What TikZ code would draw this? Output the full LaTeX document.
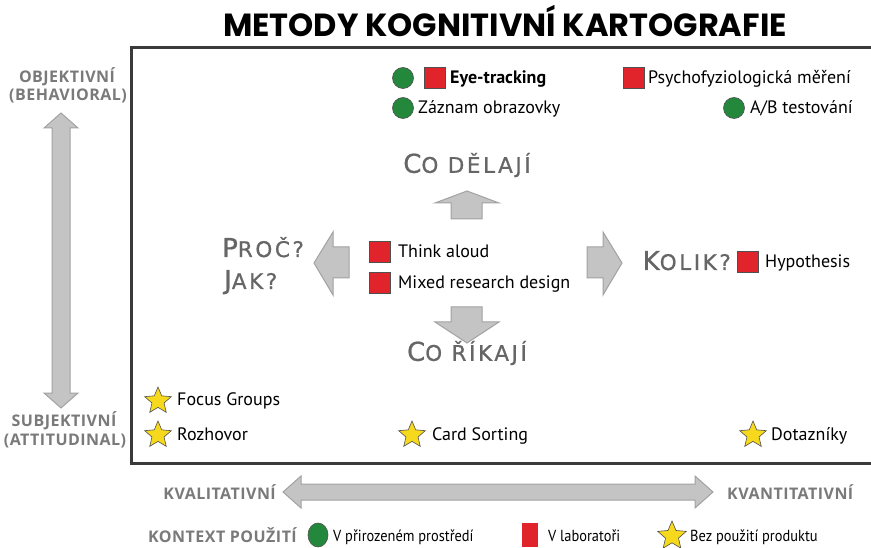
\documentclass[tikz,border=0pt]{standalone}
\usepackage{fontspec}
\setmainfont{PT Sans}
\newfontfamily\headfont{DejaVu Sans}[LetterSpace=12, FakeBold=0.8]
\newfontfamily\axisfont{Open Sans}[LetterSpace=3]
\newfontfamily\titlefont{Poppins}
\usetikzlibrary{shapes.geometric}

\definecolor{frame}{HTML}{3A3A3A}
\definecolor{arrowfill}{HTML}{C4C4C4}
\definecolor{arrowline}{HTML}{A2A2A2}
\definecolor{headgray}{HTML}{666666}
\definecolor{axisgray}{HTML}{7A7A7A}
\definecolor{fieldgreen}{HTML}{23883C}
\definecolor{labred}{HTML}{E1242B}
\definecolor{staryellow}{HTML}{F6D91C}
\definecolor{markline}{HTML}{505050}

% small caps built by hand: first letter large, rest smaller
\newcommand{\hsc}[2]{{\fontsize{26}{26}\selectfont #1}{\fontsize{21.5}{21.5}\selectfont #2}}

\tikzset{
  field/.style={circle, draw=markline, line width=0.6pt, fill=fieldgreen, minimum size=21pt, inner sep=0pt},
  lab/.style={rectangle, draw=markline, line width=0.6pt, fill=labred, minimum size=21pt, inner sep=0pt},
  noprod/.style={star, star points=5, star point ratio=2.2, draw=markline, line width=0.6pt, fill=staryellow, minimum size=28pt, inner sep=0pt},
  item/.style={anchor=base west, inner sep=0pt, font=\fontsize{18}{18}\selectfont, text=black},
  legtext/.style={anchor=base west, inner sep=0pt, font=\fontsize{16}{16}\selectfont, text=black},
  heading/.style={inner sep=0pt, text=headgray, font=\headfont},
  axislabel/.style={inner sep=0pt, text=axisgray, font=\axisfont\bfseries\fontsize{16}{16}\selectfont},
  bigarrow/.style={fill=arrowfill, draw=arrowline, line width=1pt, line join=miter},
  frame box/.style={draw=frame, line width=3pt}
}

\begin{document}
\begin{tikzpicture}[x=1pt, y=-1pt]
\clip (0,0) rectangle (871,548);
\fill[white] (0,0) rectangle (871,548);

% title
\node[inner sep=0pt, font=\titlefont\bfseries\fontsize{32}{32}\selectfont] (title) at (505,21) {METODY KOGNITIVNÍ KARTOGRAFIE};

% main frame
\draw[frame box] (131,48) rectangle (885,463);

% vertical axis
\draw[bigarrow] (61,113) -- (78,128) -- (70,128) -- (70,393) -- (78,393) -- (61,408)
  -- (44,393) -- (52,393) -- (52,128) -- (44,128) -- cycle;
\node[axislabel] (obj) at (67,77) {OBJEKTIVNÍ};
\node[axislabel] (beh) at (68,96) {(BEHAVIORAL)};
\node[axislabel] (subj) at (64,421) {SUBJEKTIVNÍ};
\node[axislabel] (att) at (65,441) {(ATTITUDINAL)};

% horizontal axis
\draw[bigarrow] (283,492) -- (301,476) -- (301,484) -- (695,484) -- (695,476) -- (713,492)
  -- (695,508) -- (695,500) -- (301,500) -- (301,508) -- cycle;
\node[axislabel, anchor=east] (qual) at (276,492) {KVALITATIVNÍ};
\node[axislabel, anchor=west] (quant) at (727,492) {KVANTITATIVNÍ};

% top row
\node[field] (c1) at (403,78) {};
\node[lab] (s1) at (435,78) {};
\node[item, font=\bfseries\fontsize{18}{18}\selectfont] (eye) at (450,84) {Eye-tracking};
\node[lab] (s2) at (634,78) {};
\node[item] (psy) at (648,84) {Psychofyziologická měření};
\node[field] (c2) at (403,108) {};
\node[item] (zaz) at (418,114) {Záznam obrazovky};
\node[field] (c3) at (734,108) {};
\node[item] (ab) at (750,114) {A/B testování};

% centre cross
\node[heading] (dela) at (467,165) {\hsc{C}{O DĚLAJÍ}};
\draw[bigarrow] (467,191) -- (499,203) -- (482,203) -- (482,219) -- (451,219) -- (451,203) -- (435,203) -- cycle;
\draw[bigarrow] (467,343) -- (499,322) -- (482,322) -- (482,307) -- (451,307) -- (451,322) -- (435,322) -- cycle;
\node[heading] (rika) at (467,353) {\hsc{C}{O ŘÍKAJÍ}};
\draw[bigarrow] (314,263) -- (333,232) -- (333,247) -- (349,247) -- (349,278) -- (333,278) -- (333,295) -- cycle;
\draw[bigarrow] (622,263) -- (603,232) -- (603,247) -- (587,247) -- (587,278) -- (603,278) -- (603,295) -- cycle;
\node[heading, anchor=base west] (proc) at (222,257) {\hsc{P}{ROČ?}};
\node[heading, anchor=base west] (jak) at (224,289) {\hsc{J}{AK?}};
\node[heading, anchor=base east] (kolik) at (731,270) {\hsc{K}{OLIK?}};

\node[lab] (s3) at (380,252) {};
\node[item] (think) at (398,258) {Think aloud};
\node[lab] (s4) at (380,283) {};
\node[item] (mixed) at (398,289) {Mixed research design};
\node[lab] (s5) at (748,262) {};
\node[item] (hyp) at (765,268) {Hypothesis};

% bottom row
\node[noprod] (t1) at (158,401) {};
\node[item] (focus) at (177,405) {Focus Groups};
\node[noprod] (t2) at (158,435) {};
\node[item] (roz) at (177,440) {Rozhovor};
\node[noprod] (t3) at (412,435) {};
\node[item] (card) at (432,440) {Card Sorting};
\node[noprod] (t4) at (753,435) {};
\node[item] (dot) at (771,440) {Dotazníky};

% legend
\node[axislabel, anchor=west] (ctx) at (148,535) {KONTEXT POUŽITÍ};
\node[ellipse, draw=markline, line width=0.6pt, fill=fieldgreen, minimum width=20pt, minimum height=24pt, inner sep=0pt] (lg1) at (318,535) {};
\node[legtext] (lt1) at (333,541) {\scalebox{0.9}[1]{V přirozeném prostředí}};
\node[rectangle, fill=labred, minimum width=16pt, minimum height=24pt, inner sep=0pt] (lg2) at (530,535) {};
\node[legtext] (lt2) at (548,541) {\scalebox{0.9}[1]{V laboratoři}};
\node[noprod, minimum size=30pt] (lg3) at (672,536) {};
\node[legtext] (lt3) at (690,541) {\scalebox{0.9}[1]{Bez použití produktu}};
\end{tikzpicture}
\end{document}
